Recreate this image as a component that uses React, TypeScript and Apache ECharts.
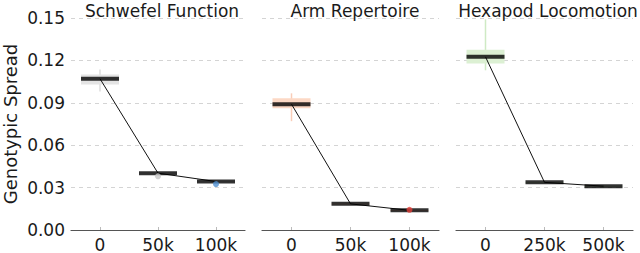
import React, { useEffect, useRef } from "react";
import * as echarts from "echarts";

const titles = ["Schwefel Function", "Arm Repertoire", "Hexapod Locomotion"];
const xLabels1 = ["0", "50k", "100k"];
const xLabels2 = ["0", "50k", "100k"];
const xLabels3 = ["0", "250k", "500k"];
const yTicks = [0, 0.03, 0.06, 0.09, 0.12, 0.15];

// [category, min, Q1, median, Q3, max]
const boxes1 = [
  [0, 0.098, 0.103, 0.107, 0.110, 0.1135],
  [1, 0.0395, 0.0398, 0.0402, 0.0406, 0.041],
  [2, 0.0338, 0.034, 0.0343, 0.0346, 0.0348],
];
const boxes2 = [
  [0, 0.077, 0.0862, 0.089, 0.0932, 0.0967],
  [1, 0.0182, 0.0183, 0.0185, 0.0187, 0.0188],
  [2, 0.0136, 0.0137, 0.0139, 0.0141, 0.0142],
];
const boxes3 = [
  [0, 0.113, 0.1178, 0.1225, 0.1276, 0.149],
  [1, 0.0332, 0.0334, 0.0337, 0.034, 0.0342],
  [2, 0.0298, 0.0306, 0.031, 0.0313, 0.0316],
];
const medians1 = [0.107, 0.0402, 0.0343];
const medians2 = [0.089, 0.0185, 0.0139];
const medians3 = [0.1225, 0.0337, 0.031];
// outliers: [category index, value]
const outliers1 = [[1, 0.038], [2, 0.0325]];
const outliers2 = [[2, 0.0143]];
const outliers3: number[][] = [];

const boxColors = ["#e4e4e4", "#fcd8c5", "#dcf0d3"];
const whiskerColors = ["#dcdcdc", "#f9cdb8", "#cfeac4"];
const outlierColors1 = ["#c8c8c8", "#4f8fcf"];
const outlierColors2 = ["#e0403a"];
const outlierColors3: string[] = [];

const FONT = "DejaVu Sans";
const BOX_W = 38;

export default function App() {
  const ref = useRef<HTMLDivElement>(null);
  useEffect(() => {
    if (!ref.current) return;
    const chart = echarts.init(ref.current, null, { renderer: "svg" });
    const lefts = [68, 262, 456];
    const width = 177;
    const titleCenters = [157, 350, 543];
    const xLabelSets = [xLabels1, xLabels2, xLabels3];
    const boxSets = [boxes1, boxes2, boxes3];
    const medSets = [medians1, medians2, medians3];
    const outSets = [outliers1, outliers2, outliers3];
    const outColorSets = [outlierColors1, outlierColors2, outlierColors3];

    const grids = lefts.map((l) => ({ left: l, top: 18, width, height: 214 }));
    const xAxes = xLabelSets.map((labels, i) => ({
      type: "category",
      gridIndex: i,
      data: labels,
      boundaryGap: true,
      axisLine: { show: true, lineStyle: { color: "#555", width: 1.2 } },
      axisTick: { show: true, alignWithLabel: true, inside: true, length: 3, lineStyle: { color: "#bbb" } },
      axisLabel: { fontFamily: FONT, fontSize: 17, color: "#1a1a1a", margin: 6 },
      splitLine: { show: false },
    }));
    const yAxes = [0, 1, 2].map((i) => ({
      type: "value",
      gridIndex: i,
      min: yTicks[0],
      max: yTicks[yTicks.length - 1],
      interval: 0.03,
      axisLine: { show: false },
      axisTick: { show: false },
      axisLabel: {
        show: i === 0,
        fontFamily: FONT,
        fontSize: 17,
        color: "#1a1a1a",
        margin: 6,
        formatter: (v: number) => v.toFixed(2),
      },
      splitLine: { show: true, lineStyle: { color: "#d4d4d4", type: [4, 4], width: 1 } },
      name: i === 0 ? "Genotypic Spread" : "",
      nameLocation: "middle",
      nameGap: 52,
      nameRotate: 90,
      nameTextStyle: { fontFamily: FONT, fontSize: 18, color: "#1a1a1a" },
    }));

    const series: any[] = [];
    [0, 1, 2].forEach((i) => {
      series.push({
        type: "custom",
        xAxisIndex: i,
        yAxisIndex: i,
        z: 2,
        data: boxSets[i],
        renderItem: (params: any, api: any) => {
          const c = api.value(0);
          const pMin = api.coord([c, api.value(1)]);
          const pQ1 = api.coord([c, api.value(2)]);
          const pQ3 = api.coord([c, api.value(4)]);
          const pMax = api.coord([c, api.value(5)]);
          return {
            type: "group",
            children: [
              {
                type: "line",
                shape: { x1: pMin[0], y1: pMin[1], x2: pMax[0], y2: pMax[1] },
                style: { stroke: whiskerColors[i], lineWidth: 1.5 },
              },
              {
                type: "rect",
                shape: { x: pQ1[0] - BOX_W / 2, y: pQ3[1], width: BOX_W, height: Math.max(1, pQ1[1] - pQ3[1]) },
                style: { fill: boxColors[i] },
              },
            ],
          };
        },
      });
      series.push({
        type: "line",
        xAxisIndex: i,
        yAxisIndex: i,
        z: 3,
        symbol: "none",
        lineStyle: { color: "#111", width: 1 },
        data: medSets[i],
      });
      series.push({
        type: "scatter",
        xAxisIndex: i,
        yAxisIndex: i,
        z: 4,
        symbol: "rect",
        symbolSize: [BOX_W, 4],
        itemStyle: { color: "#000" },
        data: medSets[i].map((m, k) => [k, m]),
      });
      series.push({
        type: "scatter",
        xAxisIndex: i,
        yAxisIndex: i,
        z: 5,
        symbol: "circle",
        symbolSize: 6,
        data: outSets[i].map((p, k) => ({ value: p, itemStyle: { color: outColorSets[i][k] } })),
      });
    });

    chart.setOption({
      animation: false,
      backgroundColor: "#fff",
      title: titles.map((t, i) => ({
        text: t,
        left: titleCenters[i],
        top: -3,
        textAlign: "center",
        textStyle: { fontFamily: FONT, fontSize: 17, fontWeight: "normal", color: "#1a1a1a" },
      })),
      grid: grids,
      xAxis: xAxes,
      yAxis: yAxes,
      series,
    });
    return () => chart.dispose();
  }, []);
  return <div ref={ref} style={{ width: 640, height: 253, position: "absolute", left: 0, top: 0 }} />;
}
